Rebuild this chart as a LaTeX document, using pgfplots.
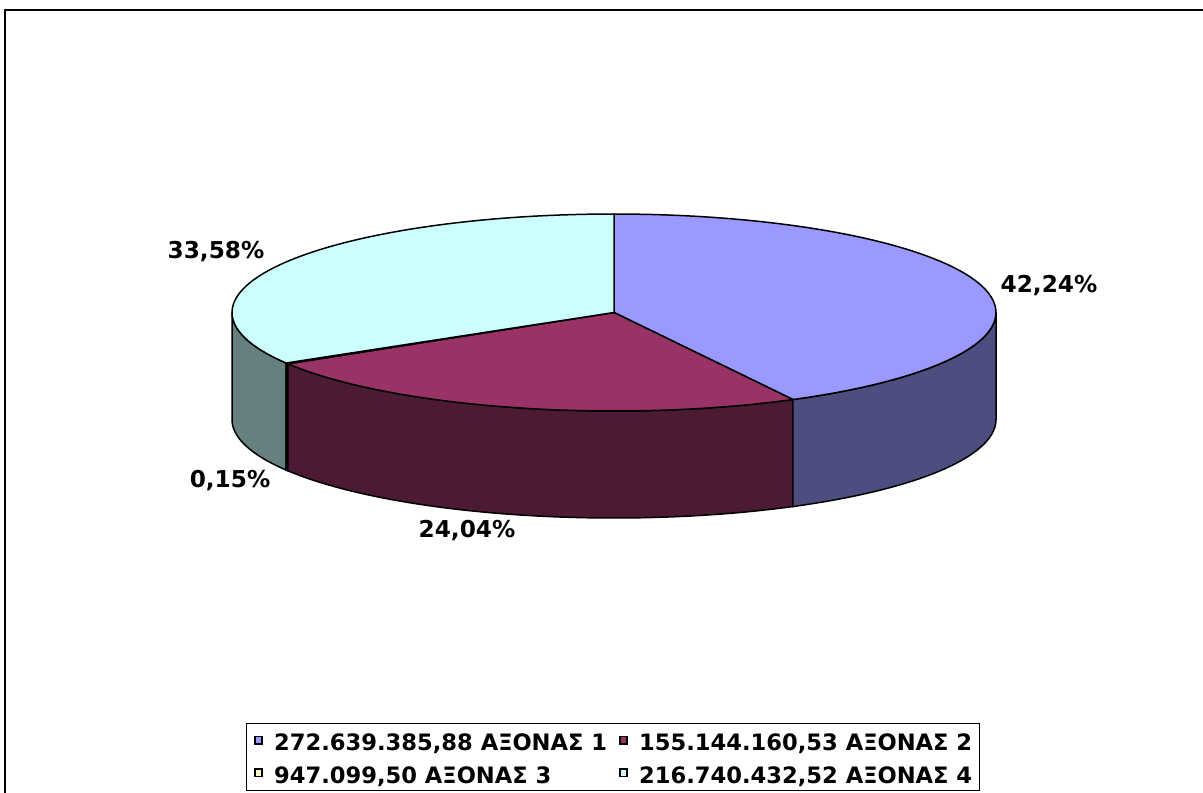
\documentclass[border=0pt]{standalone}
\usepackage{pgfplots}
\pgfplotsset{compat=1.18}
\usepackage{fontspec}
\setmainfont{DejaVu Sans}

\definecolor{s1}{HTML}{9999FF} \definecolor{s1d}{HTML}{4D4D80}
\definecolor{s2}{HTML}{993366} \definecolor{s2d}{HTML}{4D1A33}
\definecolor{s3}{HTML}{FFFFCC} \definecolor{s3d}{HTML}{808066}
\definecolor{s4}{HTML}{CCFFFF} \definecolor{s4d}{HTML}{668080}

% data (percent shares)
\def\pA{42.24}\def\pB{24.04}\def\pC{0.15}\def\pD{33.58}
% geometry in pixel units
\def\cx{614}\def\cy{312.5}\def\A{382}\def\B{98.5}\def\D{107}

\pgfmathsetmacro{\tA}{90}
\pgfmathsetmacro{\tB}{\tA-3.6*\pA}
\pgfmathsetmacro{\tC}{\tB-3.6*\pB}
\pgfmathsetmacro{\tD}{\tC-3.6*\pC}
\pgfmathsetmacro{\tE}{90-360}

\newcommand{\sideface}[3]{%
 \addplot[fill=#3, draw=black, line width=0.75pt, samples at={0,...,121}, variable=\t, forget plot]
 ({\cx + \A*cos(ifthenelse(\t<=60, (#1)+((#2)-(#1))*\t/60, (#2)-((#2)-(#1))*(\t-61)/60))},
  {\cy - \B*sin(ifthenelse(\t<=60, (#1)+((#2)-(#1))*\t/60, (#2)-((#2)-(#1))*(\t-61)/60)) + \D*(\t>60)}) -- cycle;
}
\newcommand{\topface}[3]{%
 \addplot[fill=#3, draw=black, line width=0.75pt, samples at={0,...,61}, variable=\t]
 ({\cx + (\t<=60)*\A*cos((#1)+((#2)-(#1))*min(\t,60)/60)},
  {\cy - (\t<=60)*\B*sin((#1)+((#2)-(#1))*min(\t,60)/60)}) -- cycle;
}

\begin{document}
\begin{tikzpicture}
\begin{axis}[name=ax, width=601.5pt, height=396pt, scale only axis,
  xmin=0, xmax=1203, ymin=0, ymax=792, y dir=reverse,
  axis line style={draw=none}, ticks=none, clip=true,
  legend columns=2, legend cell align=left,
  legend image code/.code={\draw[#1, draw=black, line width=0.8pt] (0.4pt,-1.4pt) rectangle (4.0pt,2.2pt);},
  legend style={at={(axis cs:246,723.3)}, anchor=north west, draw=black, line width=0.5pt,
    font=\bfseries\fontsize{11.3}{13}\selectfont, inner xsep=3.8pt, inner ysep=3pt,
    nodes={inner xsep=0pt, inner ysep=0pt, text height=10.5pt, text depth=0.7pt},
    /tikz/every odd column/.append style={column sep=5.6pt},
    /tikz/every even column/.append style={column sep=6pt},
    row sep=5.1pt},
]
% chart area border
\addplot[draw=black, line width=1pt, forget plot] coordinates {(1230,10) (5,10) (5,810)};

% side faces
\sideface{-180}{\tD}{s4d}
\sideface{\tD}{\tC}{s3d}
\sideface{\tC}{\tB}{s2d}
\sideface{\tB}{0}{s1d}

% top faces
\topface{\tA}{\tB}{s1}
\addlegendentry{272.639.385,88 ΑΞΟΝΑΣ 1}
\topface{\tB}{\tC}{s2}
\addlegendentry{155.144.160,53 ΑΞΟΝΑΣ 2}
\topface{\tC}{\tD}{s3}
\addlegendentry{947.099,50 ΑΞΟΝΑΣ 3}
\topface{\tD}{\tE}{s4}
\addlegendentry{216.740.432,52 ΑΞΟΝΑΣ 4}

\node[font=\bfseries\fontsize{11.6}{13}\selectfont] at (axis cs:1049,286) {42,24\%};
\node[font=\bfseries\fontsize{11.6}{13}\selectfont] at (axis cs:467,531) {24,04\%};
\node[font=\bfseries\fontsize{11.6}{13}\selectfont] at (axis cs:230,481) {0,15\%};
\node[font=\bfseries\fontsize{11.6}{13}\selectfont] at (axis cs:216,252) {33,58\%};
\end{axis}
\pgfresetboundingbox
\useasboundingbox (ax.south west) rectangle (ax.north east);
\end{tikzpicture}
\end{document}
